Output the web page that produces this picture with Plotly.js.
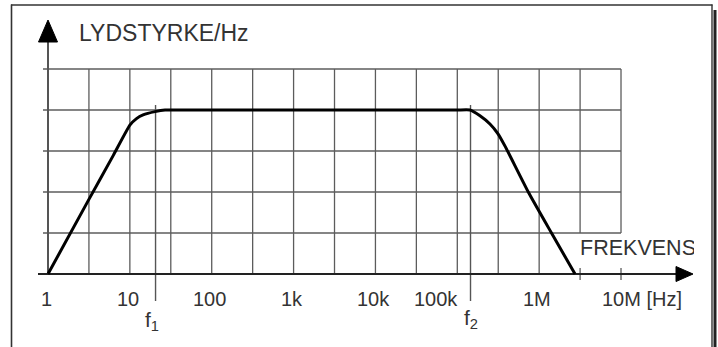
<!DOCTYPE html>
<html>
<head>
<meta charset="utf-8">
<script src="https://cdn.plot.ly/plotly-3.0.1.min.js"></script>
<style>
  html, body { margin: 0; padding: 0; background: #fff; }
  #chart { width: 718px; height: 347px; }
</style>
</head>
<body>
<div id="chart"></div>
<script>
// Frequency response: level (in grid units) against frequency in Hz
const freqHz = [1, 3.16, 6.3, 10, 12.05, 14.5, 20.3, 26.9, 40,
                1000, 100000, 142900, 189300, 250600, 314400, 382800, 736000, 1415000, 2742000];
const level  = [0, 1.82, 2.9, 3.63, 3.79, 3.88, 3.96, 4.0, 4.0,
                4.0, 4.0, 4.0, 3.86, 3.66, 3.42, 3.12, 2.0, 1.0, 0];

// Horizontal grid levels and vertical grid lines (log10 of frequency, half decades)
const gridLevels = [1, 2, 3, 4, 5];
const gridExponents = [0.5, 1, 1.5, 2, 2.5, 3, 3.5, 4, 4.5, 5, 5.5, 6, 6.5, 7];

// Frequency tick labels
const tickHz = [1, 10, 100, 1e3, 1e4, 1e5, 1e6, 1e7];
const tickLabels = ['1', '10', '100', '1k', '10k', '100k', '1M', '10M [Hz]'];

// Cut-off frequencies f1 and f2
const cutoffHz = [20.6, 145000];
const cutoffLabels = ['f<sub>1</sub>', 'f<sub>2</sub>'];

const yTitle = 'LYDSTYRKE/Hz';
const xTitle = 'FREKVENS';

// Plot geometry
const W = 718, H = 347, MR = 24;
const plotW = W - MR;
const xRange = [-0.5864, 7.8916];
const yRange = [-1.780, 6.683];
const pxPerDec = plotW / (xRange[1] - xRange[0]);
const pxPerLev = H / (yRange[1] - yRange[0]);
const dec = px => px / pxPerDec;     // pixel length -> decades
const lev = px => px / pxPerLev;     // pixel length -> levels

const topLevel = gridLevels[gridLevels.length - 1];
const lastExp = gridExponents[gridExponents.length - 1];
const textFont = 'Liberation Sans, Arial, sans-serif';
const inkText = '#333';

// grid lines as one trace
const gx = [], gy = [];
const leftStub = Math.pow(10, -dec(5));
gridLevels.forEach(l => { gx.push(leftStub, Math.pow(10, lastExp), null); gy.push(l, l, null); });
gridExponents.forEach(e => {
  const f = Math.pow(10, e);
  if (e > 6.25) {
    // the label area near the axis is kept clear, with a short tick at the axis
    gx.push(f, f, null); gy.push(1, topLevel, null);
    gx.push(f, f, null); gy.push(-lev(6), lev(6), null);
  } else {
    gx.push(f, f, null); gy.push(0, topLevel, null);
  }
});

// axes with arrow heads
const yAxisTop = topLevel + lev(27);
const yArrowLen = lev(22), yArrowHalf = dec(9.5);
const xAxisStart = Math.pow(10, -dec(10));
const xArrowTipExp = lastExp + dec(72);
const xArrowLen = dec(17), xArrowHalf = lev(7.5);

const traces = [
  { x: gx, y: gy, mode: 'lines', line: { color: '#5c5c5c', width: 1.3 }, hoverinfo: 'skip' },
  // cut-off markers
  ...cutoffHz.map(f => ({
    x: [f, f], y: [4 + lev(5), -lev(27)], mode: 'lines',
    line: { color: '#555', width: 1.4 }, hoverinfo: 'skip'
  })),
  // x axis line
  { x: [xAxisStart, Math.pow(10, xArrowTipExp - xArrowLen + dec(3))], y: [0, 0], mode: 'lines',
    line: { color: '#222', width: 2 }, hoverinfo: 'skip' },
  // y axis line
  { x: [1, 1], y: [0, yAxisTop + lev(2)], mode: 'lines',
    line: { color: '#555', width: 2 }, hoverinfo: 'skip' },
  // x arrow head
  { x: [Math.pow(10, xArrowTipExp - xArrowLen), Math.pow(10, xArrowTipExp), Math.pow(10, xArrowTipExp - xArrowLen), Math.pow(10, xArrowTipExp - xArrowLen)],
    y: [xArrowHalf, 0, -xArrowHalf, xArrowHalf], mode: 'lines', fill: 'toself',
    fillcolor: '#000', line: { color: '#000', width: 1 }, hoverinfo: 'skip' },
  // y arrow head
  { x: [Math.pow(10, -yArrowHalf), 1, Math.pow(10, yArrowHalf), Math.pow(10, -yArrowHalf)],
    y: [yAxisTop, yAxisTop + yArrowLen, yAxisTop, yAxisTop], mode: 'lines', fill: 'toself',
    fillcolor: '#000', line: { color: '#000', width: 1 }, hoverinfo: 'skip' },
  // response curve
  { x: freqHz, y: level, mode: 'lines',
    line: { color: '#000', width: 3, shape: 'spline', smoothing: 0.4 }, hoverinfo: 'skip' },
  // x axis name, clipped at the plot edge
  { x: [Math.pow(10, 6.5)], y: [lev(24)], mode: 'text', text: [xTitle],
    textposition: 'middle right', cliponaxis: true,
    textfont: { family: textFont, size: 21.5, color: inkText }, hoverinfo: 'skip' }
];

const annotations = [];
tickHz.forEach((f, i) => {
  const last = i === tickHz.length - 1;
  let shift = -2;
  if (tickLabels[i] === '100k') shift = -21;
  annotations.push({
    x: Math.log10(f), y: -lev(25), xref: 'x', yref: 'y',
    text: tickLabels[i], showarrow: false,
    xanchor: last ? 'left' : 'center', yanchor: 'middle',
    xshift: last ? -21 : shift,
    font: { family: textFont, size: 20, color: inkText }
  });
});
cutoffHz.forEach((f, i) => {
  annotations.push({
    x: Math.log10(f), y: -lev(i === 0 ? 47 : 45), xref: 'x', yref: 'y',
    text: cutoffLabels[i], showarrow: false, xanchor: 'center', yanchor: 'middle',
    xshift: i === 0 ? -4 : 0,
    font: { family: textFont, size: 21, color: inkText }
  });
});
annotations.push({
  x: dec(29), y: topLevel + lev(36), xref: 'x', yref: 'y',
  text: yTitle, showarrow: false, xanchor: 'left', yanchor: 'middle',
  font: { family: textFont, size: 23, color: inkText }
});

// page frame with a shadow on the right
const px2paperX = px => px / plotW;
const px2paperY = py => 1 - py / H;
const shapes = [
  { type: 'line', xref: 'paper', yref: 'paper', x0: px2paperX(11.5), x1: px2paperX(11.5), y0: px2paperY(4.5), y1: px2paperY(H + 2),
    line: { color: '#333', width: 1.6 } },
  { type: 'line', xref: 'paper', yref: 'paper', x0: px2paperX(11), x1: px2paperX(712.5), y0: px2paperY(5), y1: px2paperY(5),
    line: { color: '#333', width: 1.6 } },
  { type: 'line', xref: 'paper', yref: 'paper', x0: px2paperX(712), x1: px2paperX(712), y0: px2paperY(4.5), y1: px2paperY(H + 2),
    line: { color: '#333', width: 1.4 } },
  { type: 'rect', xref: 'paper', yref: 'paper', x0: px2paperX(713.5), x1: px2paperX(716.5), y0: px2paperY(10), y1: px2paperY(H + 2),
    fillcolor: '#222', line: { width: 0 } }
];

const layout = {
  width: W, height: H,
  margin: { l: 0, r: MR, t: 0, b: 0, pad: 0 },
  paper_bgcolor: '#fff', plot_bgcolor: '#fff',
  showlegend: false,
  xaxis: { type: 'log', range: xRange, visible: false, fixedrange: true },
  yaxis: { range: yRange, visible: false, fixedrange: true },
  annotations: annotations,
  shapes: shapes
};

Plotly.newPlot('chart', traces, layout, { staticPlot: true, displayModeBar: false });
</script>
</body>
</html>
